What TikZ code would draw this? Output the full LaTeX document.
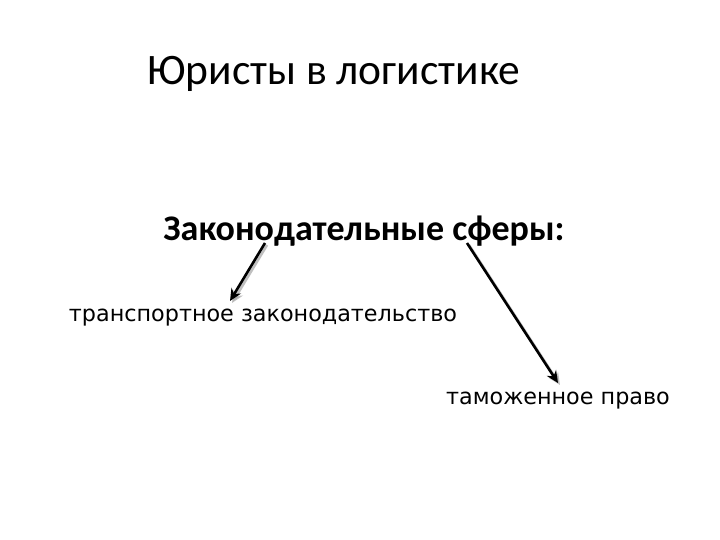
\documentclass[tikz,border=0pt]{standalone}
\usepackage{fontspec}
\setmainfont{Carlito}
\newfontfamily\dejavu{DejaVu Sans}
\usetikzlibrary{arrows.meta}

\tikzset{
  strelka/.style={black,line width=2.6pt,-{Stealth[length=12pt,width=11pt]}},
  ten/.style={strelka,black!35,opacity=0.7},
}

\begin{document}
\begin{tikzpicture}[x=1pt,y=-1pt]
  \useasboundingbox[fill=white] (0,0) rectangle (720,540);
  \node (titul) at (334,74) {\fontsize{43.5}{50}\selectfont Юристы в логистике};
  \node (zakon) at (364,231) {\fontsize{36}{42}\selectfont\bfseries Законодательные сферы:};
  \node (transp) at (263,318) {\dejavu\fontsize{22.3}{26}\selectfont транспортное законодательство};
  \node (tamozh) at (558,401) {\dejavu\fontsize{22.3}{26}\selectfont таможенное право};
  % тени стрелок
  \draw[ten] ([xshift=-97pt,yshift=-14pt]zakon.center) -- ([xshift=-31pt,yshift=15pt]transp.center);
  \draw[ten] ([xshift=105pt,yshift=-14pt]zakon.center) -- ([xshift=2pt,yshift=16pt]tamozh.center);
  % стрелки
  \draw[strelka] ([xshift=-99pt,yshift=-12pt]zakon.center) -- ([xshift=-33pt,yshift=17pt]transp.center);
  \draw[strelka] ([xshift=103pt,yshift=-12pt]zakon.center) -- ([xshift=0pt,yshift=18pt]tamozh.center);
\end{tikzpicture}
\end{document}
